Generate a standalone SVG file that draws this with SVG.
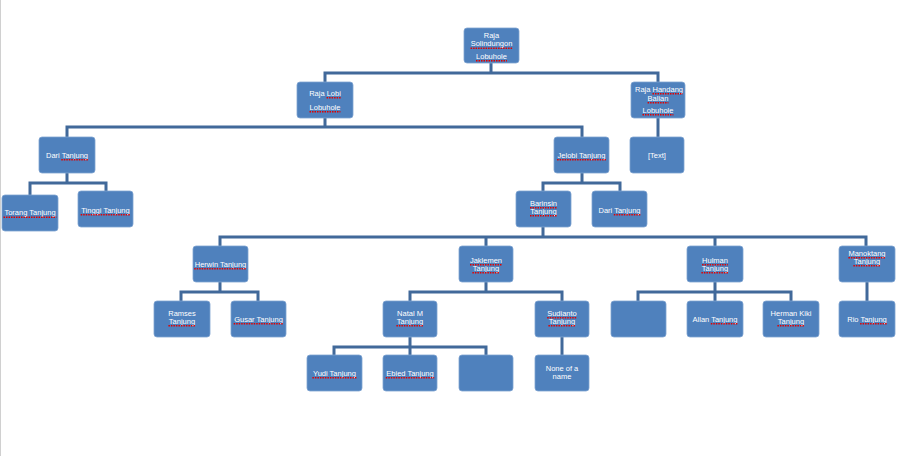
<svg xmlns="http://www.w3.org/2000/svg" width="897" height="456" viewBox="0 0 897 456">
<style>
.b{fill:#4F81BD;stroke:#7FA3D0;stroke-width:0.8}
.t{font-family:"Liberation Sans",Arial,sans-serif;font-size:7.5px;fill:#fff;text-anchor:middle}
.c{fill:none;stroke:#41699A;stroke-width:3;stroke-linejoin:miter;stroke-linecap:butt}
.q{fill:none;stroke:#E00000;stroke-width:1.6;stroke-dasharray:1.5 1}
</style>
<rect x="0" y="0" width="897" height="456" fill="#fff"/>
<line x1="0.5" y1="0" x2="0.5" y2="456" stroke="#d0d0d0" stroke-width="1"/>
<g id="connectors" class="c">
<path d="M491 63V73M325 82V73H658V82"/>
<path d="M658 118V137"/>
<path d="M325 118V127M67 137V127H582V137"/>
<path d="M67 173V183M30 195V183H106V191"/>
<path d="M582 173V183M543 191V183H620V191"/>
<path d="M543 227V237M220 246V237H866V246M486 237V246M715 237V246"/>
<path d="M220 282V292M181 301V292H258V301"/>
<path d="M486 282V292M410 301V292H562V301"/>
<path d="M715 282V292M638 301V292H791V301M715 292V301"/>
<path d="M867 282V301"/>
<path d="M410 337V347M334 355V347H486V355M410 347V355"/>
<path d="M562 337V355"/>
</g>
<g id="n-root"><rect class="b" x="464" y="28" width="55" height="35" rx="3"/><text class="t" x="491.5" y="37.5">Raja</text><text class="t" x="491.5" y="46">Solindungon</text><text class="t" x="491.5" y="58.5">Lobuhole</text></g>
<g id="n-lobi"><rect class="b" x="297" y="82" width="56" height="36" rx="3"/><text class="t" x="325" y="95.5">Raja Lobi</text><text class="t" x="325" y="109.5">Lobuhole</text></g>
<g id="n-handang"><rect class="b" x="631" y="82" width="54" height="36" rx="3"/><text class="t" x="659" y="91.5">Raja Handang</text><text class="t" x="658" y="100.5">Balian</text><text class="t" x="658" y="112.5">Lobuhole</text></g>
<g id="n-text"><rect class="b" x="630" y="137" width="54" height="36" rx="3"/><text class="t" x="657" y="157.5">[Text]</text></g>
<g id="n-dari1"><rect class="b" x="39" y="137" width="56" height="36" rx="3"/><text class="t" x="67" y="157.5">Dari Tanjung</text></g>
<g id="n-jelobi"><rect class="b" x="554" y="137" width="55" height="36" rx="3"/><text class="t" x="581.5" y="157.5">Jelobi Tanjung</text></g>
<g id="n-torang"><rect class="b" x="2" y="195" width="56" height="36" rx="3"/><text class="t" x="30" y="215">Torang Tanjung</text></g>
<g id="n-tinggi"><rect class="b" x="78" y="191" width="55" height="36" rx="3"/><text class="t" x="105.5" y="212.5">Tinggi Tanjung</text></g>
<g id="n-barinsin"><rect class="b" x="516" y="191" width="55" height="36" rx="3"/><text class="t" x="543.5" y="205.5">Barinsin</text><text class="t" x="543.5" y="213.5">Tanjung</text></g>
<g id="n-dari2"><rect class="b" x="592" y="191" width="55" height="36" rx="3"/><text class="t" x="619.5" y="212.5">Dari Tanjung</text></g>
<g id="n-herwin"><rect class="b" x="193" y="246" width="55" height="36" rx="3"/><text class="t" x="220.5" y="266.5">Herwin Tanjung</text></g>
<g id="n-jaklemen"><rect class="b" x="459" y="246" width="54" height="36" rx="3"/><text class="t" x="486" y="262.5">Jaklemen</text><text class="t" x="486" y="270.5">Tanjung</text></g>
<g id="n-hulman"><rect class="b" x="687" y="246" width="56" height="36" rx="3"/><text class="t" x="715" y="262.5">Hulman</text><text class="t" x="715" y="270.5">Tanjung</text></g>
<g id="n-manoktang"><rect class="b" x="839" y="246" width="56" height="36" rx="3"/><text class="t" x="867" y="255.5">Manoktang</text><text class="t" x="867" y="263.5">Tanjung</text></g>
<g id="n-ramses"><rect class="b" x="154" y="301" width="56" height="36" rx="3"/><text class="t" x="182" y="315.5">Ramses</text><text class="t" x="182" y="323.5">Tanjung</text></g>
<g id="n-gusar"><rect class="b" x="231" y="301" width="55" height="36" rx="3"/><text class="t" x="258.5" y="321.5">Gusar Tanjung</text></g>
<g id="n-natal"><rect class="b" x="383" y="301" width="54" height="36" rx="3"/><text class="t" x="410" y="315.5">Natal M</text><text class="t" x="410" y="323.5">Tanjung</text></g>
<g id="n-sudianto"><rect class="b" x="535" y="301" width="54" height="36" rx="3"/><text class="t" x="562" y="315.5">Sudianto</text><text class="t" x="562" y="323.5">Tanjung</text></g>
<g id="n-blank1"><rect class="b" x="611" y="301" width="55" height="36" rx="3"/></g>
<g id="n-allan"><rect class="b" x="687" y="301" width="56" height="36" rx="3"/><text class="t" x="715" y="321.5">Allan Tanjung</text></g>
<g id="n-herman"><rect class="b" x="763" y="301" width="56" height="36" rx="3"/><text class="t" x="791" y="315.5">Herman Kiki</text><text class="t" x="791" y="323.5">Tanjung</text></g>
<g id="n-rio"><rect class="b" x="839" y="301" width="56" height="36" rx="3"/><text class="t" x="867" y="321.5">Rio Tanjung</text></g>
<g id="n-yudi"><rect class="b" x="307" y="355" width="55" height="36" rx="3"/><text class="t" x="334.5" y="375.5">Yudi Tanjung</text></g>
<g id="n-ebied"><rect class="b" x="383" y="355" width="54" height="36" rx="3"/><text class="t" x="410" y="375.5">Ebied Tanjung</text></g>
<g id="n-blank2"><rect class="b" x="459" y="355" width="54" height="36" rx="3"/></g>
<g id="n-none"><rect class="b" x="535" y="355" width="54" height="36" rx="3"/><text class="t" x="562" y="370.5">None of a</text><text class="t" x="562" y="378.5">name</text></g>
<g id="spellcheck-marks" class="q">
<path d="M470.6 48.3h41.7M476 60.8h30.9"/>
<path d="M326.6 97.8h14.2M309.5 111.8h30.9"/>
<path d="M652.5 93.8h30.4M647.6 102.8h20.8M642.5 114.8h30.9"/>
<path d="M61.3 159.8h27.1"/>
<path d="M557.1 159.8h48.8"/>
<path d="M3.5 217.3h52.9"/>
<path d="M80.7 214.8h49.6"/>
<path d="M530 207.8h27.1M530 215.8h27.1"/>
<path d="M613.8 214.8h27.1"/>
<path d="M194.2 268.8h52.5"/>
<path d="M470 264.8h32.1M472.4 272.8h27.1"/>
<path d="M702.1 264.8h25.8M701.4 272.8h27.1"/>
<path d="M848.4 257.8h37.1M853.4 265.8h27.1"/>
<path d="M168.4 325.8h27.1"/>
<path d="M233.7 323.8h49.6"/>
<path d="M396.4 325.8h27.1"/>
<path d="M547.2 317.8h29.6M548.4 325.8h27.1"/>
<path d="M710.8 323.8h27.1"/>
<path d="M777.4 325.8h27.1"/>
<path d="M860.1 323.8h27.1"/>
<path d="M312.4 377.8h44.2"/>
<path d="M385.8 377.8h48.4"/>
</g>
</svg>
